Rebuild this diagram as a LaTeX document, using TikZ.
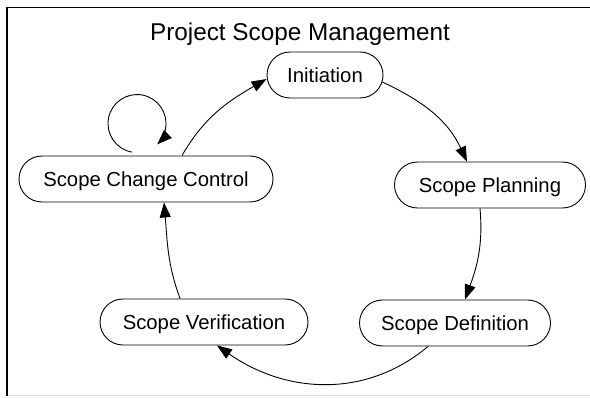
\documentclass[tikz,border=0pt]{standalone}
\usepackage{fontspec}
\setmainfont{Liberation Sans}
\usetikzlibrary{shapes.misc,arrows.meta}

\tikzset{
  phase/.style={draw, rounded rectangle, line width=0.9pt, minimum height=46pt,
    inner xsep=0pt, font=\fontsize{20.3}{24}\selectfont, text height=14.6pt, text depth=0pt},
  flow/.style={line width=0.9pt, -{Triangle[length=15pt,width=11pt]}}
}

\begin{document}
\begin{tikzpicture}[x=1pt,y=1pt]
\useasboundingbox (0,0) rectangle (590,397);
% frame
\draw[gray!25, line width=1.5pt] (7,1.5)--(590,1.5);
\draw[line width=1.6pt] (590,389.5)--(7,389.5)--(7,1.5);

\node[anchor=base, font=\fontsize{24.3}{28}\selectfont] (title) at (300,356) {Project Scope Management};

\node[phase, minimum width=116pt] (init) at (325,322) {Initiation};
\node[phase, minimum width=191pt] (plan) at (490,212) {Scope Planning};
\node[phase, minimum width=191pt] (def) at (455,74) {Scope Definition};
\node[phase, minimum width=208pt] (ver) at (204,75) {Scope Verification};
\node[phase, minimum width=254pt] (scc) at (146,218) {Scope Change Control};

% the cycle
\draw[flow] (init.-7) to[out=-25, in=115] ([xshift=-23pt]plan.north);
\draw[flow] ([xshift=-10pt]plan.south) to[out=-85, in=70] ([xshift=10pt]def.north);
\draw[flow] ([xshift=-27pt]def.south) to[out=-140, in=-35] ([xshift=13pt]ver.south);
\draw[flow] ([xshift=-24pt]ver.north) to[out=110, in=-85] ([xshift=18pt]scc.south);
\draw[flow] ([xshift=36pt]scc.north) to[out=60, in=-150] ([yshift=-4pt]init.west);

% change control feeds back on itself
\draw[flow] ([shift={(-9pt,32pt)}]scc.north) ++(260:29pt) arc[start angle=260, end angle=-46, radius=29pt];
\end{tikzpicture}
\end{document}
